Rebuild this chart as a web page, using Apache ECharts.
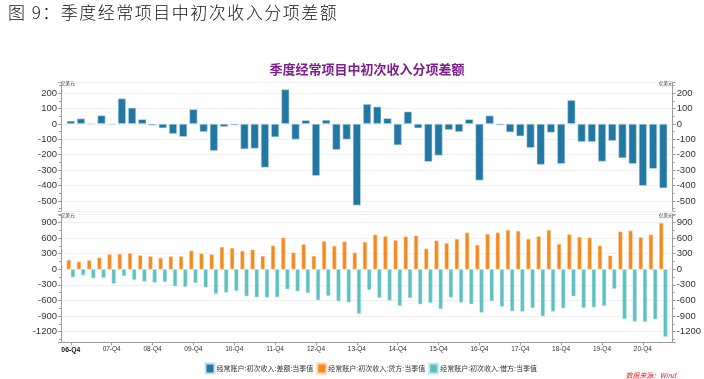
<!DOCTYPE html>
<html><head><meta charset="utf-8">
<script src="https://cdn.jsdelivr.net/npm/echarts@6/dist/echarts.min.js"></script>
<style>
html,body{margin:0;padding:0;background:#fff;}
#wrap{position:relative;width:704px;height:379px;overflow:hidden;background:#fff;}
#chart{position:absolute;left:0;top:0;width:704px;height:379px;}
#heading{position:absolute;left:8px;top:0px;font-family:'Noto Sans CJK SC',sans-serif;font-weight:300;font-size:17px;letter-spacing:1.5px;color:#111;white-space:nowrap;line-height:24px;}
</style></head>
<body>
<div id="wrap"><div id="chart"></div><div id="heading">图 9：季度经常项目中初次收入分项差额</div></div>
<script>
// ---- data ----
const categories = ['06-Q4',
 '07-Q1','07-Q2','07-Q3','07-Q4','08-Q1','08-Q2','08-Q3','08-Q4',
 '09-Q1','09-Q2','09-Q3','09-Q4','10-Q1','10-Q2','10-Q3','10-Q4',
 '11-Q1','11-Q2','11-Q3','11-Q4','12-Q1','12-Q2','12-Q3','12-Q4',
 '13-Q1','13-Q2','13-Q3','13-Q4','14-Q1','14-Q2','14-Q3','14-Q4',
 '15-Q1','15-Q2','15-Q3','15-Q4','16-Q1','16-Q2','16-Q3','16-Q4',
 '17-Q1','17-Q2','17-Q3','17-Q4','18-Q1','18-Q2','18-Q3','18-Q4',
 '19-Q1','19-Q2','19-Q3','19-Q4','20-Q1','20-Q2','20-Q3','20-Q4',
 '21-Q1','21-Q2'];
const xTickLabels = ['06-Q4','07-Q4','08-Q4','09-Q4','10-Q4','11-Q4','12-Q4','13-Q4','14-Q4','15-Q4','16-Q4','17-Q4','18-Q4','19-Q4','20-Q4'];
const seriesNames = ['经常账户:初次收入:差额:当季值','经常账户:初次收入:贷方:当季值','经常账户:初次收入:借方:当季值'];
const balance = [20, 35, 3, 55, -5, 165, 105, 30, -10, -28, -65, -84, 95, -52, -175, -19, -9, -164, -160, -283,
 -86, 224, -101, 24, -337, 26, -168, -101, -529, 129, 112, 37, -138, 80, -28, -246, -205, -39, -52, 30,
 -367, 54, -9, -54, -80, -155, -265, -56, -259, 155, -117, -117, -244, -110, -222, -259, -401, -291, -417];
const credit = [180, 148, 174, 225, 289, 296, 308, 270, 251, 219, 251, 251, 360, 302, 289, 431, 411, 354, 379, 257,
 456, 610, 321, 482, 257, 540, 450, 533, 321, 527, 668, 636, 559, 630, 649, 398, 553, 501, 585, 707,
 469, 681, 707, 758, 739, 585, 636, 758, 488, 675, 623, 610, 456, 264, 726, 745, 617, 668, 893];
const debit = [-154, -115, -173, -167, -282, -128, -205, -237, -257, -244, -327, -340, -263, -347, -475, -449, -417, -520, -539, -545,
 -539, -385, -424, -456, -597, -514, -616, -636, -860, -398, -552, -604, -706, -552, -674, -648, -764, -545, -642, -674,
 -835, -616, -719, -809, -815, -745, -905, -815, -751, -520, -745, -732, -706, -379, -957, -1008, -1014, -963, -1303];
const chartTitle = '季度经常项目中初次收入分项差额';
const unitName = '亿美元';
const sourceText = '数据来源：Wind';

// ---- chart ----
const FONT = "'Liberation Sans','Noto Sans CJK SC',sans-serif";
const CJK = "'Noto Sans CJK SC',sans-serif";
const AX = '#9c9c9c';
const xMin = -0.96, xMax = 58.92;
const tickIdx = xTickLabels.map(l => categories.indexOf(l));
const toPts = arr => arr.map((v, i) => [i, v]);

function yAx(grid, pos, min, max, showSplit) {
  return {
    type: 'value', gridIndex: grid, position: pos, min: min, max: max, splitNumber: 8,
    axisLine: {show: true, onZero: false, lineStyle: {color: AX, width: 1}},
    axisTick: {show: true, length: 3, lineStyle: {color: AX}},
    minorTick: {show: true, splitNumber: 2, length: 2, lineStyle: {color: AX}},
    splitLine: {show: showSplit, lineStyle: {color: '#f1f1f1', width: 1}},
    axisLabel: {showMinLabel: false, showMaxLabel: false, fontSize: 9.5, color: '#333', margin: 4, fontFamily: FONT,
      formatter: v => String(v)},
    name: unitName, nameLocation: 'end', nameGap: -1,
    nameTextStyle: {fontSize: 4.6, color: '#222', fontFamily: CJK, align: pos === 'left' ? 'left' : 'right', verticalAlign: 'middle'}
  };
}

const chart = echarts.init(document.getElementById('chart'), null, {renderer: 'canvas'});
chart.setOption({
  animation: false,
  backgroundColor: 'transparent',
  textStyle: {fontFamily: FONT},
  grid: [
    {left: 61, right: 31.3, top: 82.3, height: 128.7},
    {left: 61, right: 31.3, top: 214, height: 128.3}
  ],
  xAxis: [
    {type: 'value', gridIndex: 0, min: xMin, max: xMax, show: false},
    {type: 'value', gridIndex: 1, min: xMin, max: xMax,
     axisLine: {show: true, onZero: false, lineStyle: {color: AX}},
     axisTick: {show: true, customValues: tickIdx, length: 3, lineStyle: {color: AX}},
     splitLine: {show: false},
     axisLabel: {customValues: tickIdx, fontSize: 6.5, color: '#333', margin: 4, fontFamily: FONT,
       formatter: v => { const s = categories[Math.round(v)]; return Math.round(v) === 0 ? '{b|' + s + '}' : s; },
       rich: {b: {fontSize: 6.8, fontWeight: 'bold', color: '#111', fontFamily: FONT}}}
    }
  ],
  yAxis: [
    yAx(0, 'left', -565, 270, true),
    yAx(0, 'right', -565, 270, false),
    yAx(1, 'left', -1406, 1065, true),
    yAx(1, 'right', -1406, 1065, false)
  ],
  legend: {
    data: seriesNames, left: 199.5, top: 357.5, icon: 'rect', itemWidth: 9, itemHeight: 10, itemGap: 3,
    textStyle: {fontSize: 7, color: '#333', fontFamily: CJK, padding: [0, 0, 0, -3]}
  },
  graphic: [
    {type: 'text', x: 367, y: 69, style: {text: chartTitle, font: "bold 13px 'Noto Sans CJK SC'", fill: '#7E1E8C', align: 'center', verticalAlign: 'middle'}},
    {type: 'text', x: 676, y: 375, style: {text: sourceText, font: "italic 6.8px 'Noto Sans CJK SC'", fill: '#E8151B', align: 'right', verticalAlign: 'middle'}}
  ],
  series: [
    {name: seriesNames[0], type: 'bar', xAxisIndex: 0, yAxisIndex: 0, data: toPts(balance), barWidth: 8,
     itemStyle: {color: '#2277A3', borderColor: '#c9e0ec', borderWidth: 0.6}},
    {name: seriesNames[1], type: 'bar', xAxisIndex: 1, yAxisIndex: 2, data: toPts(credit), barWidth: 4.2, barGap: '0%',
     itemStyle: {color: '#F5891F', borderColor: '#fbd5ac', borderWidth: 0.5}},
    {name: seriesNames[2], type: 'bar', xAxisIndex: 1, yAxisIndex: 2, data: toPts(debit), barWidth: 4.2, barGap: '0%',
     itemStyle: {color: '#5EC0C0', borderColor: '#c5e9e8', borderWidth: 0.5}}
  ]
});
</script>
</body></html>
